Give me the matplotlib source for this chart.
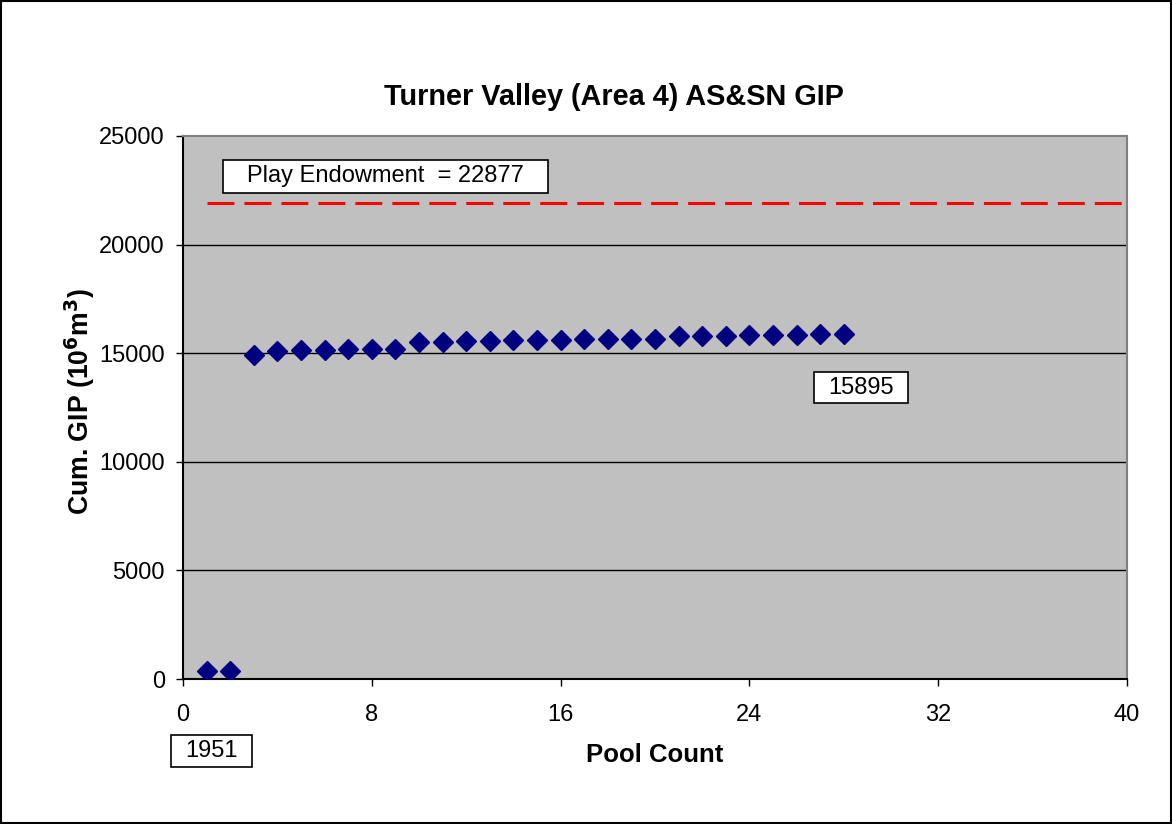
import matplotlib
matplotlib.use("Agg")
import matplotlib.pyplot as plt
from matplotlib.patches import Rectangle

plt.rcParams["font.family"] = ["Liberation Sans", "DejaVu Sans"]

# ── Data ─────────────────────────────────────────────────────────────────────
pool_count = list(range(1, 29))
cum_gip = [370, 370, 14930, 15080, 15140, 15160, 15180, 15190, 15200, 15500,
           15530, 15540, 15560, 15600, 15610, 15630, 15640, 15650, 15660, 15670,
           15790, 15800, 15810, 15820, 15840, 15850, 15880, 15895]
endowment_x = [1, 40]
endowment_y = [21900, 21900]
endowment_label = "Play Endowment  = 22877"
last_label = "15895"
year_label = "1951"
x_ticks = [0, 8, 16, 24, 32, 40]
y_ticks = [0, 5000, 10000, 15000, 20000, 25000]

W, H = 1172, 824
fig = plt.figure(figsize=(W / 100, H / 100), dpi=100)
fig.patches.append(Rectangle((0.001, 0.001), 0.998, 0.998, transform=fig.transFigure,
                             fill=False, edgecolor="black", linewidth=1.5))
ax = fig.add_axes([183 / W, 1 - 679 / H, 944 / W, 543 / H])
ax.set_facecolor("#C0C0C0")

for y in y_ticks[1:-1]:
    ax.axhline(y, color="black", linewidth=1, zorder=1)

ax.plot(endowment_x, endowment_y, color="red", linewidth=2.2,
        dashes=(8.8, 3.3), zorder=2)
ax.plot(pool_count, cum_gip, linestyle="none", marker="D", markersize=10,
        color="#000080", zorder=3)

ax.set_xlim(0, 40)
ax.set_ylim(0, 25000)
ax.set_xticks(x_ticks)
ax.set_yticks(y_ticks)
ax.tick_params(labelsize=17, direction="out", length=5, width=1, color="black")
ax.tick_params(axis="x", pad=13)
ax.tick_params(axis="y", pad=8)
for s in ax.spines.values():
    s.set_color("#808080")
    s.set_linewidth(1.5)
ax.spines["left"].set_color("black")
ax.spines["bottom"].set_color("black")

fig.text(614 / W, 1 - 97 / H, "Turner Valley (Area 4) AS&SN GIP", fontsize=20.8,
         fontweight="bold", ha="center", va="center")
fig.text(655 / W, 1 - 755 / H, "Pool Count", fontsize=18.5, fontweight="bold",
         ha="center", va="center")
fig.text(80 / W, 1 - 402 / H, "Cum. GIP (10$^\\mathbf{6}$m$^\\mathbf{3}$)", fontsize=19.2,
         fontweight="bold", rotation=90, ha="center", va="center")


def label_box(x0, x1, y0, y1, text):
    ax.add_patch(Rectangle((x0, y0), x1 - x0, y1 - y0, facecolor="white",
                           edgecolor="black", linewidth=1.2, zorder=4, clip_on=False))
    ax.text((x0 + x1) / 2, (y0 + y1) / 2, text, fontsize=17, ha="center",
            va="center", zorder=5, clip_on=False)


label_box(1.7, 15.47, 22376, 23895, endowment_label)
label_box(26.74, 30.72, 12707, 14134, last_label)
label_box(-0.51, 2.92, -4052, -2578, year_label)

fig.savefig("out.png", dpi=100)
